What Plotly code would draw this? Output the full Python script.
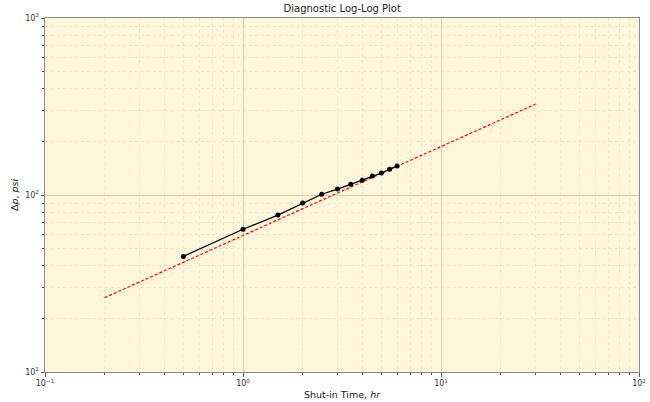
import plotly.graph_objects as go

# Data
t_hr = [0.5, 1.0, 1.5, 2.0, 2.5, 3.0, 3.5, 4.0, 4.5, 5.0, 5.5, 6.0]
dp_psi = [45, 64, 77, 90, 101, 108, 115, 121, 128, 133, 140, 146]
line_t = [0.2, 30]
line_dp = [26.3, 326]

x_tickvals = [0.1, 1, 10, 100]
x_ticktext = ["10<sup>\u22121</sup>", "10<sup>0</sup>", "10<sup>1</sup>", "10<sup>2</sup>"]
y_tickvals = [10, 100, 1000]
y_ticktext = ["10<sup>1</sup>", "10<sup>2</sup>", "10<sup>3</sup>"]

x_minor = [m * 10 ** e for e in range(-1, 2) for m in range(2, 10)]
y_minor = [m * 10 ** e for e in range(1, 3) for m in range(2, 10)]

fig = go.Figure()
fig.add_trace(go.Scatter(x=line_t, y=line_dp, mode="lines",
                         line=dict(color="red", width=1.2, dash="3px,2px"), showlegend=False))
fig.add_trace(go.Scatter(x=t_hr, y=dp_psi, mode="lines+markers",
                         line=dict(color="black", width=1.2),
                         marker=dict(color="black", size=5), showlegend=False))

axis_common = dict(
    type="log", showline=True, linecolor="#8a8a8a", linewidth=1, mirror=True,
    ticks="outside", ticklen=3.5, tickcolor="#555", tickwidth=1, automargin=False,
    showgrid=True, gridcolor="#d4cdb8", gridwidth=1, zeroline=False,
    tickfont=dict(family="DejaVu Sans", size=8, color="#333"),
)

minor_common = dict(tickmode="array", ticks="outside", ticklen=2, tickcolor="#555",
                    showgrid=True, gridcolor="#ebe3cb", griddash="dot", gridwidth=1)

fig.update_layout(
    width=650, height=402,
    margin=dict(l=45, r=11, t=18, b=30),
    paper_bgcolor="white", plot_bgcolor="#fff6dc",
    title=dict(text="Diagnostic Log-Log Plot", x=0.5265, xanchor="center", y=0.978, yanchor="middle",
               font=dict(family="DejaVu Sans", size=10, color="#222")),
    xaxis=dict(axis_common, range=[-1, 2], tickmode="array", tickvals=x_tickvals, ticktext=x_ticktext,
               minor=dict(minor_common, tickvals=x_minor),
               title=dict(text="Shut-in Time, <i>hr</i>", standoff=4,
                          font=dict(family="DejaVu Sans", size=9.5, color="#222"))),
    yaxis=dict(axis_common, range=[1, 3], tickmode="array", tickvals=y_tickvals, ticktext=y_ticktext,
               minor=dict(minor_common, tickvals=y_minor),
               title=dict(text="\u0394<i>p</i>, <i>psi</i>", standoff=4,
                          font=dict(family="DejaVu Sans", size=9.5, color="#222"))),
)

fig.write_html("out.html")
